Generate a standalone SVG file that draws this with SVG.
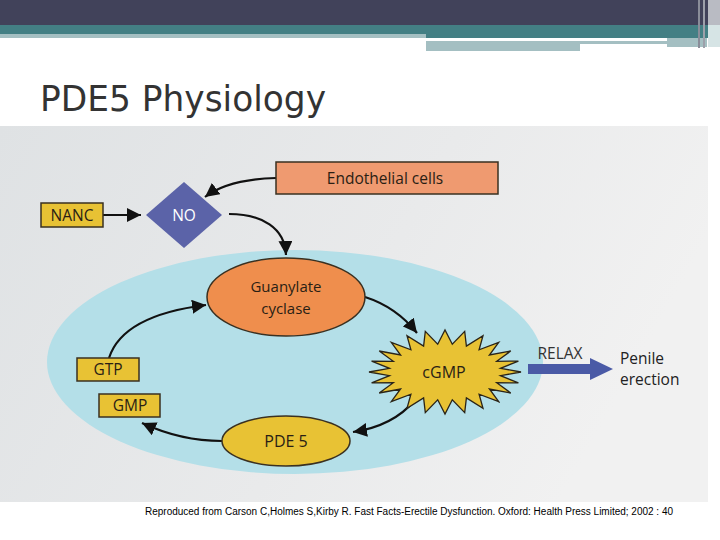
<svg xmlns="http://www.w3.org/2000/svg" width="720" height="540" viewBox="0 0 720 540">
<defs>
<linearGradient id="bg" x1="0" y1="0" x2="1" y2="0.3">
<stop offset="0" stop-color="#dfe2e4"/>
<stop offset="0.6" stop-color="#e9eaeb"/>
<stop offset="1" stop-color="#f1f1f1"/>
</linearGradient>
<marker id="ah" markerUnits="userSpaceOnUse" markerWidth="16" markerHeight="14" refX="14" refY="7" orient="auto">
<path d="M0,0 L14,7 L0,14 Z" fill="#111"/>
</marker>
<style>
.lbl{font-family:"Open Sans","Liberation Sans",sans-serif;font-size:15.5px;fill:#2a1e14;text-anchor:middle}
.box{stroke:#3a3020;stroke-width:1.5}
.con{fill:none;stroke:#111;stroke-width:2.2;marker-end:url(#ah)}
</style>
</defs>
<rect width="720" height="540" fill="#ffffff"/>
<!-- header bands -->
<rect x="0" y="0" width="720" height="25" fill="#41425a"/>
<rect x="0" y="25" width="720" height="9" fill="#437f84"/>
<rect x="0" y="34" width="426" height="4" fill="#a4bfc2"/>
<rect x="426" y="34" width="290" height="4" fill="#437f84"/>
<rect x="426" y="41" width="241" height="3" fill="#a4bfc2"/>
<rect x="426" y="44" width="154" height="7" fill="#a4bfc2"/>
<rect x="667" y="38" width="40" height="9" fill="#a4bfc2"/>
<rect x="698" y="0" width="2" height="48" fill="#8a8d99"/>
<rect x="703" y="0" width="2" height="48" fill="#9da0aa"/>
<rect x="708" y="0" width="12" height="25" fill="#b9bbc3"/>
<rect x="708" y="25" width="12" height="22" fill="#d6e4e5"/>
<!-- title -->
<text x="40" y="111" font-family="DejaVu Sans, Liberation Sans, sans-serif" font-size="35" fill="#333333" textLength="286" lengthAdjust="spacingAndGlyphs">PDE5 Physiology</text>
<!-- photo background -->
<rect x="0" y="126" width="708" height="376" fill="url(#bg)"/>
<ellipse cx="295" cy="362" rx="248" ry="112" fill="#b4dfe8"/>
<!-- connectors -->
<g id="connectors">
<line x1="103" y1="215" x2="141" y2="215" class="con"/>
<path d="M276,178 C245,179 222,184 205,197" class="con"/>
<path d="M229,214 C262,214 285,228 286,255" class="con"/>
<path d="M365,297 C390,305 405,318 417,333" class="con"/>
<path d="M415,400 C400,418 380,428 353,432" class="con"/>
<path d="M222,441 C195,441 168,435 142,423" class="con"/>
<path d="M109,358 C118,330 150,312 206,305" class="con"/>
<path d="M528,364 L590,364 L590,358 L613,369 L590,380 L590,374 L528,374 Z" fill="#4a5aa6"/>
<text x="560" y="359" class="lbl" style="fill:#333">RELAX</text>
</g>
<g id="endothelial">
<rect x="276" y="162" width="222" height="32" fill="#ef9a70" class="box"/>
<text x="385" y="184" class="lbl">Endothelial cells</text>
</g>
<g id="nanc">
<rect x="41" y="203" width="62" height="24" fill="#e8c234" class="box"/>
<text x="72" y="221" class="lbl">NANC</text>
</g>
<g id="no">
<path d="M184,182 L222,215 L184,248 L146,215 Z" fill="#5b63a8"/>
<text x="184" y="221" class="lbl" style="fill:#fff">NO</text>
</g>
<g id="guanylate">
<ellipse cx="286" cy="297" rx="79" ry="39" fill="#ef8e4d" class="box"/>
<text x="286" y="292" class="lbl" style="font-size:15px">Guanylate</text>
<text x="286" y="314" class="lbl" style="font-size:15px">cyclase</text>
</g>
<g id="cgmp">
<path d="M521,372 L500.5,375.7 L518.4,382.9 L496.7,382.7 L510.8,393 L489.4,389 L498.7,401.7 L479.1,394.2 L483,408.4 L466.4,397.9 L464.7,412.6 L452.3,399.8 L445,414 L437.7,399.8 L425.3,412.6 L423.6,397.9 L407,408.4 L410.9,394.2 L391.3,401.7 L400.6,389 L379.2,393 L393.3,382.7 L371.6,382.9 L389.5,375.7 L369,372 L389.5,368.3 L371.6,361.1 L393.3,361.3 L379.2,351 L400.6,355 L391.3,342.3 L410.9,349.8 L407,335.6 L423.6,346.1 L425.3,331.4 L437.7,344.2 L445,330 L452.3,344.2 L464.7,331.4 L466.4,346.1 L483,335.6 L479.1,349.8 L498.7,342.3 L489.4,355 L510.8,351 L496.7,361.3 L518.4,361.1 L500.5,368.3 Z" fill="#e8c234" stroke="#2a2418" stroke-width="1.3"/>
<text x="444" y="378" class="lbl" style="font-size:16px">cGMP</text>
</g>
<g id="penile">
<text x="620" y="364" class="lbl" style="text-anchor:start;fill:#222">Penile</text>
<text x="620" y="385" class="lbl" style="text-anchor:start;fill:#222">erection</text>
</g>
<g id="pde5">
<ellipse cx="286" cy="441" rx="64" ry="25" fill="#e8c234" class="box"/>
<text x="286" y="447" class="lbl" style="font-size:16px">PDE 5</text>
</g>
<g id="gtp">
<rect x="77" y="358" width="62" height="23" fill="#e8c234" class="box"/>
<text x="108" y="375" class="lbl">GTP</text>
</g>
<g id="gmp">
<rect x="99" y="394" width="61" height="23" fill="#e8c234" class="box"/>
<text x="130" y="411" class="lbl">GMP</text>
</g>
<text x="145" y="515" font-family="Liberation Sans, Arial, sans-serif" font-size="10" fill="#000" textLength="528" lengthAdjust="spacingAndGlyphs">Reproduced from Carson C,Holmes S,Kirby R. Fast Facts-Erectile Dysfunction. Oxford: Health Press Limited; 2002 : 40</text>
</svg>
